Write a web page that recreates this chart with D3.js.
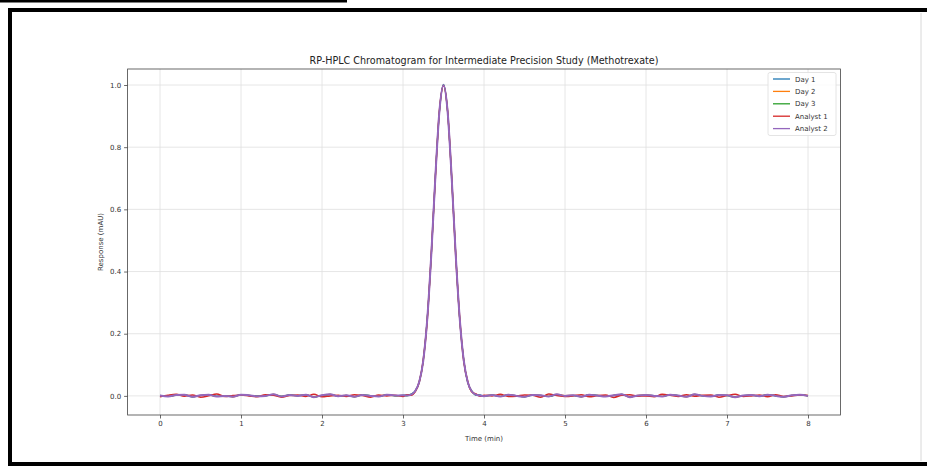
<!DOCTYPE html>
<html><head><meta charset="utf-8">
<script src="https://cdn.jsdelivr.net/npm/d3@7"></script>
<style>
html,body{margin:0;padding:0;background:#fff;}
svg{display:block;font-family:"DejaVu Sans",sans-serif;}
</style></head>
<body>
<svg id="chart" width="927" height="468"></svg>
<script>
const title = "RP-HPLC Chromatogram for Intermediate Precision Study (Methotrexate)";
const xLabel = "Time (min)";
const yLabel = "Response (mAU)";
const xTicks = [0,1,2,3,4,5,6,7,8];
const yTicks = [0.0,0.2,0.4,0.6,0.8,1.0];
const seriesNames = ["Day 1","Day 2","Day 3","Analyst 1","Analyst 2"];
const seriesColors = ["#1f77b4","#ff7f0e","#2ca02c","#d62728","#9467bd"];

const time = [
 0.0,0.1,0.2,0.3,0.4,0.5,0.6,0.7,0.8,0.9,1.0,1.1,1.2,1.3,1.4,1.5,1.6,1.7,1.8,1.9,2.0,2.1,2.2,2.3,2.4,2.5,2.6,2.7,2.8,2.9,3.0,
 3.05,3.1,3.15,3.2,3.25,3.3,3.35,3.4,3.45,3.5,3.55,3.6,3.65,3.7,3.75,3.8,3.85,3.9,3.95,
 4.0,4.1,4.2,4.3,4.4,4.5,4.6,4.7,4.8,4.9,5.0,5.1,5.2,5.3,5.4,5.5,5.6,5.7,5.8,5.9,6.0,6.1,6.2,6.3,6.4,6.5,6.6,6.7,6.8,6.9,7.0,7.1,7.2,7.3,7.4,7.5,7.6,7.7,7.8,7.9,8.0
];

const day1 = [
 0.002,-0.002,0.003,0.003,-0.003,0.002,0.004,-0.001,0.000,-0.003, 0.004,0.001,-0.001,0.000,0.004,-0.002,0.003,0.001,0.004,-0.004, 0.002,0.004,-0.001,0.002,-0.002,0.003,0.000,-0.002,0.003,0.001, 0.002,
 0.003,0.006,0.016,0.046,0.113,0.251,0.456,0.709,0.915,1.002,0.918,0.705,0.460,0.247,0.116,0.042,0.015,0.002,0.003,
 -0.001,0.002,-0.002,0.004,0.001,-0.003,0.003,0.001,-0.002,0.004, 0.000,0.002,-0.002,0.004,0.001,-0.002,0.001,0.005,-0.003,0.001, 0.003,0.001,-0.002,0.003,0.001,-0.003,0.004,0.000,-0.001,0.003, 0.002,-0.003,0.001,0.003,-0.001,0.003,0.000,-0.003,0.002,0.003, 0.000
];
const day2 = [
 0.001,-0.001,0.003,0.004,-0.002,0.002,0.003,-0.002,0.001,-0.003, 0.003,0.002,-0.001,0.001,0.005,-0.002,0.002,0.000,0.004,-0.003, 0.002,0.005,0.000,0.002,-0.003,0.002,0.000,-0.001,0.004,0.001, 0.001,
 0.002,0.003,0.013,0.045,0.112,0.248,0.459,0.706,0.919,0.999,0.915,0.709,0.457,0.250,0.113,0.046,0.012,0.005,0.000,
 0.000,0.003,-0.001,0.004,0.000,-0.002,0.003,0.002,-0.001,0.005, 0.001,0.002,-0.003,0.003,0.001,-0.001,0.002,0.004,-0.004,0.002, 0.003,0.000,-0.001,0.004,0.000,-0.003,0.005,0.001,-0.002,0.002, 0.002,-0.004,0.000,0.003,-0.001,0.004,0.001,-0.002,0.002,0.004, 0.001
];
const day3 = [
 0.000,-0.002,0.002,0.004,-0.003,0.001,0.004,-0.002,0.000,-0.002, 0.004,0.002,0.000,0.000,0.005,-0.001,0.003,0.000,0.003,-0.004, 0.001,0.005,-0.001,0.001,-0.003,0.003,0.001,-0.002,0.004,0.000, 0.002,
 0.000,0.005,0.015,0.043,0.115,0.250,0.457,0.708,0.916,1.001,0.916,0.708,0.459,0.248,0.115,0.043,0.016,0.003,0.002,
 -0.001,0.003,-0.002,0.003,0.000,-0.003,0.002,0.002,-0.002,0.004, 0.000,0.001,-0.003,0.004,0.002,-0.002,0.002,0.005,-0.003,0.001, 0.002,0.000,-0.002,0.004,0.001,-0.002,0.005,0.000,-0.002,0.003, 0.001,-0.004,0.001,0.002,-0.001,0.004,0.000,-0.003,0.001,0.004, 0.000
];
const analyst1 = [
 -0.003,0.002,0.005,-0.001,0.003,-0.004,0.000,0.006,-0.002,0.001, 0.003,0.000,-0.003,0.004,0.002,-0.004,0.001,0.003,-0.002,0.005, -0.003,0.000,0.002,-0.002,0.004,0.001,-0.004,0.003,0.000,0.002, -0.002,
 0.004,0.002,0.014,0.044,0.116,0.247,0.460,0.705,0.918,0.998,0.919,0.706,0.456,0.251,0.112,0.045,0.013,0.006,-0.001,
 0.002,0.000,0.005,-0.002,-0.001,0.003,0.002,-0.004,0.006,0.001, -0.002,0.000,0.004,-0.003,0.001,0.003,-0.005,0.002,0.004,-0.001, 0.000,-0.003,0.005,0.002,-0.002,0.004,-0.001,0.002,0.003,-0.004, 0.001,0.005,-0.002,0.000,0.003,-0.003,0.004,-0.002,0.000,0.003, 0.001
];
const analyst2 = [
 0.001,-0.002,0.003,0.004,-0.003,0.002,0.004,-0.002,0.000,-0.003, 0.004,0.002,-0.001,0.000,0.005,-0.002,0.003,0.000,0.004,-0.004, 0.002,0.005,-0.001,0.002,-0.003,0.003,0.000,-0.002,0.004,0.001, 0.002,
 0.001,0.004,0.015,0.045,0.113,0.249,0.458,0.707,0.917,1.000,0.917,0.707,0.458,0.250,0.114,0.044,0.014,0.004,0.001,
 -0.001,0.003,-0.002,0.004,0.000,-0.003,0.003,0.002,-0.002,0.005, 0.000,0.002,-0.003,0.004,0.001,-0.002,0.002,0.005,-0.004,0.001, 0.003,0.000,-0.002,0.004,0.001,-0.003,0.005,0.000,-0.002,0.003, 0.002,-0.004,0.001,0.003,-0.001,0.004,0.000,-0.003,0.002,0.004, 0.000
];
const seriesValues = [day1, day2, day3, analyst1, analyst2];
const seriesWidths = [1.2, 1.2, 1.2, 1.5, 2.0];

const svg = d3.select("#chart");

// outer frame decorations
svg.append("rect").attr("x",0).attr("y",0).attr("width",347).attr("height",2.5).attr("fill","#000");
svg.append("path").attr("d","M927,10 L10,10 L10,464 L927,464")
  .attr("fill","none").attr("stroke","#000").attr("stroke-width",4);
svg.append("line").attr("x1",921).attr("x2",921).attr("y1",13).attr("y2",461)
  .attr("stroke","#d8d8d8").attr("stroke-width",1);

const L=127.6, R=840.4, T=69, B=415;
const x = d3.scaleLinear().domain([-0.4, 8.4]).range([L, R]);
const y = d3.scaleLinear().domain([-0.0615, 1.0515]).range([B, T]);

// grid
const g = svg.append("g");
g.selectAll(".gx").data(xTicks).enter().append("line")
  .attr("x1",d=>x(d)).attr("x2",d=>x(d)).attr("y1",T).attr("y2",B)
  .attr("stroke","#e0e0e0").attr("stroke-width",0.8);
g.selectAll(".gy").data(yTicks).enter().append("line")
  .attr("x1",L).attr("x2",R).attr("y1",d=>y(d)).attr("y2",d=>y(d))
  .attr("stroke","#e0e0e0").attr("stroke-width",0.8);

// lines
const line = d3.line().x(d=>x(d[0])).y(d=>y(d[1])).curve(d3.curveMonotoneX);
seriesValues.forEach((vals,i)=>{
  const n = Math.min(vals.length, time.length);
  const pts = [];
  for(let k=0;k<n;k++) pts.push([time[k], vals[k]]);
  svg.append("path").datum(pts).attr("d",line)
    .attr("fill","none").attr("stroke",seriesColors[i]).attr("stroke-width",seriesWidths[i]);
});

// axes
const xAxis = svg.append("g").attr("transform",`translate(0,${B})`)
  .call(d3.axisBottom(x).tickValues(xTicks).tickFormat(d3.format("d")).tickSize(3.5).tickPadding(3));
const yAxis = svg.append("g").attr("transform",`translate(${L},0)`)
  .call(d3.axisLeft(y).tickValues(yTicks).tickFormat(d3.format(".1f")).tickSize(3.5).tickPadding(3));
[xAxis,yAxis].forEach(a=>{
  a.select(".domain").remove();
  a.selectAll(".tick line").attr("stroke","#444").attr("stroke-width",0.8);
  a.selectAll(".tick text").attr("fill","#333").style("font-size","7px").style("font-family","DejaVu Sans");
});
// spines
svg.append("rect").attr("x",L).attr("y",T).attr("width",R-L).attr("height",B-T)
  .attr("fill","none").attr("stroke","#444").attr("stroke-width",0.8);

// texts
svg.append("text").attr("x",(L+R)/2).attr("y",64).attr("text-anchor","middle")
  .attr("fill","#222").style("font-size","9.6px").text(title);
svg.append("text").attr("x",(L+R)/2).attr("y",441).attr("text-anchor","middle")
  .attr("fill","#333").style("font-size","7px").text(xLabel);
svg.append("text").attr("transform",`translate(103,${(T+B)/2}) rotate(-90)`).attr("text-anchor","middle")
  .attr("fill","#333").style("font-size","7px").text(yLabel);

// legend
const lg = svg.append("g");
lg.append("rect").attr("x",768).attr("y",72.5).attr("width",68).attr("height",63).attr("rx",2)
  .attr("fill","#fff").attr("fill-opacity",0.8).attr("stroke","#ddd").attr("stroke-width",0.8);
seriesNames.forEach((nm,i)=>{
  const yy = 79 + i*12.4;
  lg.append("line").attr("x1",773).attr("x2",790).attr("y1",yy).attr("y2",yy)
    .attr("stroke",seriesColors[i]).attr("stroke-width",1.3);
  lg.append("text").attr("x",795).attr("y",yy+2.5).attr("fill","#333").style("font-size","7px").text(nm);
});
</script>
</body></html>
